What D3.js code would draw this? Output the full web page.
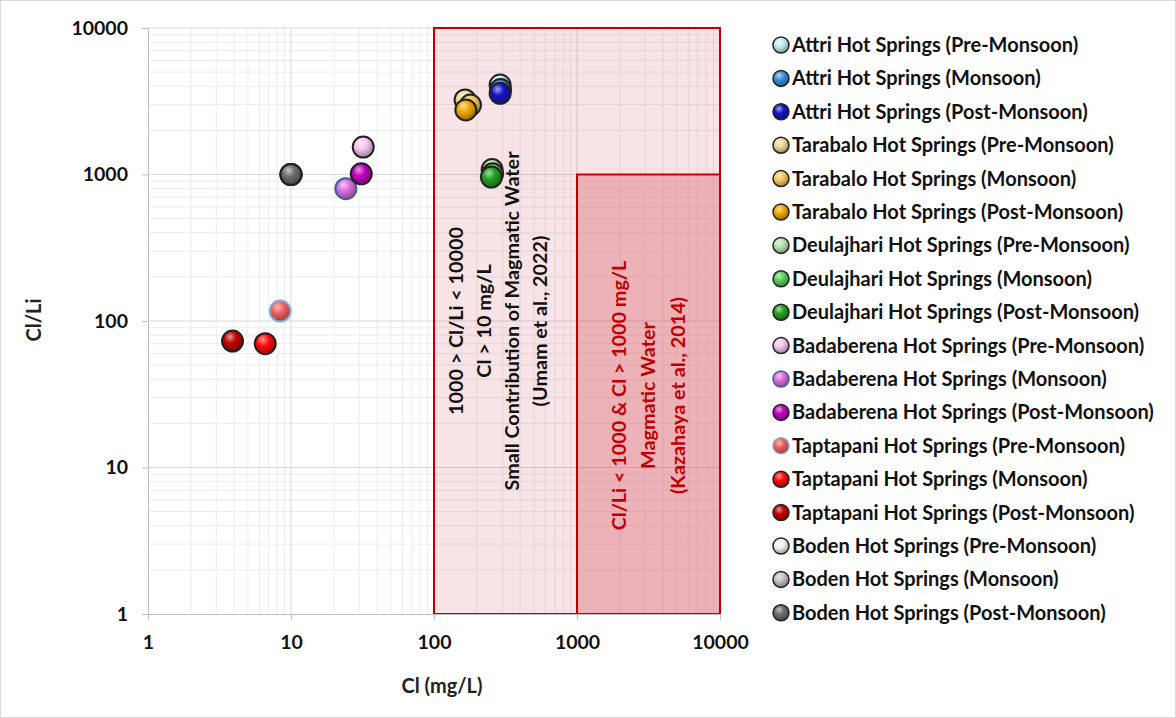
<!DOCTYPE html>
<html>
<head>
<meta charset="utf-8">
<script src="https://cdn.jsdelivr.net/npm/d3@7"></script>
<style>
  body { margin: 0; background: #fff; }
  svg { display: block; font-family: Lato, "Open Sans", sans-serif; }
</style>
</head>
<body>
<svg id="chart" width="1176" height="718"></svg>
<script>
// series, in legend order
var seriesNames = [
  "Attri Hot Springs (Pre-Monsoon)", "Attri Hot Springs (Monsoon)", "Attri Hot Springs (Post-Monsoon)",
  "Tarabalo Hot Springs (Pre-Monsoon)", "Tarabalo Hot Springs (Monsoon)", "Tarabalo Hot Springs (Post-Monsoon)",
  "Deulajhari Hot Springs (Pre-Monsoon)", "Deulajhari Hot Springs (Monsoon)", "Deulajhari Hot Springs (Post-Monsoon)",
  "Badaberena Hot Springs (Pre-Monsoon)", "Badaberena Hot Springs (Monsoon)", "Badaberena Hot Springs (Post-Monsoon)",
  "Taptapani Hot Springs (Pre-Monsoon)", "Taptapani Hot Springs (Monsoon)", "Taptapani Hot Springs (Post-Monsoon)",
  "Boden Hot Springs (Pre-Monsoon)", "Boden Hot Springs (Monsoon)", "Boden Hot Springs (Post-Monsoon)"
];
var clValues   = [290, 292, 290, 165, 180, 167, 255, 257, 252, 32, 24.2, 31, 8.4, 6.6, 3.9, 10, 10, 10];
var clliValues = [4080, 3800, 3580, 3230, 2980, 2760, 1080, 1010, 960, 1540, 800, 1010, 117, 70, 73, 1000, 1000, 1000];
var fillColors = ["#c8ecec", "#3c8ed8", "#1414c8", "#f0d898", "#f2c860", "#f0a800",
                  "#b8e2b0", "#58d058", "#22a022", "#f4c6f0", "#e070e0", "#c000c0",
                  "#f06060", "#ff0a0a", "#c00000", "#f2f2f2", "#c4c4c4", "#6e6e6e"];
var strokeColors = ["#222", "#222", "#222", "#222", "#222", "#222",
                    "#222", "#222", "#222", "#222", "#41609a", "#222",
                    "#86acd4", "#222", "#222", "#222", "#222", "#222"];

var xTicks = [1, 10, 100, 1000, 10000];
var yTicks = [1, 10, 100, 1000, 10000];

// zones: [x0, x1, y0, y1]
var zone1 = [100, 10000, 1, 10000];
var zone2 = [1000, 10000, 1, 1000];
var zone1Text = ["1000 > Cl/Li < 10000", "Cl > 10 mg/L", "Small Contribution of Magmatic Water", "(Umam et al., 2022)"];
var zone2Text = ["Cl/Li < 1000 & Cl > 1000 mg/L", "Magmatic Water", "(Kazahaya et al., 2014)"];

var svg = d3.select("#chart");
var margin = {left: 148, right: 456, top: 28, bottom: 104};
var width = 1176 - margin.left - margin.right,
    height = 718 - margin.top - margin.bottom;

svg.append("rect").attr("x", 0.5).attr("y", 0.5).attr("width", 1175).attr("height", 717)
  .attr("fill", "#fff").attr("stroke", "#d9d9d9");

var x = d3.scaleLog().domain([1, 10000]).range([0, width]);
var y = d3.scaleLog().domain([1, 10000]).range([height, 0]);

var g = svg.append("g").attr("transform", "translate(" + margin.left + "," + margin.top + ")");

// gradients
var defs = svg.append("defs");
fillColors.forEach(function (c, i) {
  var grad = defs.append("radialGradient").attr("id", "ball" + i)
    .attr("cx", "40%").attr("cy", "35%").attr("r", "65%").attr("fx", "38%").attr("fy", "30%");
  grad.append("stop").attr("offset", "0%").attr("stop-color", d3.interpolateRgb(c, "#fff")(0.6));
  grad.append("stop").attr("offset", "45%").attr("stop-color", c);
  grad.append("stop").attr("offset", "100%").attr("stop-color", d3.color(c).darker(1.2));
});

// grid
var minor = [];
[1, 10, 100, 1000].forEach(function (d) {
  for (var k = 2; k <= 9; k++) minor.push(d * k);
});
g.selectAll(".gx-minor").data(minor).enter().append("line")
  .attr("x1", function (d) { return x(d); }).attr("x2", function (d) { return x(d); })
  .attr("y1", 0).attr("y2", height).attr("stroke", "#ececec");
g.selectAll(".gy-minor").data(minor).enter().append("line")
  .attr("y1", function (d) { return y(d); }).attr("y2", function (d) { return y(d); })
  .attr("x1", 0).attr("x2", width).attr("stroke", "#ececec");
g.selectAll(".gx-major").data(xTicks.slice(1)).enter().append("line")
  .attr("x1", function (d) { return x(d); }).attr("x2", function (d) { return x(d); })
  .attr("y1", 0).attr("y2", height).attr("stroke", "#d9d9d9");
g.selectAll(".gy-major").data(yTicks.slice(1)).enter().append("line")
  .attr("y1", function (d) { return y(d); }).attr("y2", function (d) { return y(d); })
  .attr("x1", 0).attr("x2", width).attr("stroke", "#d9d9d9");

// zones
function zoneRect(z, op) {
  g.append("rect")
    .attr("x", x(z[0])).attr("y", y(z[3]))
    .attr("width", x(z[1]) - x(z[0])).attr("height", y(z[2]) - y(z[3]))
    .attr("fill", "rgb(208,62,75)").attr("fill-opacity", op)
    .attr("stroke", "#c00000").attr("stroke-width", 2);
}
zoneRect(zone1, 0.14);
zoneRect(zone2, 0.3);

// axes
var xAxis = g.append("g").attr("transform", "translate(0," + height + ")")
  .call(d3.axisBottom(x).tickValues(xTicks).tickFormat(d3.format("d")).tickSize(6).tickPadding(15));
var yAxis = g.append("g")
  .call(d3.axisLeft(y).tickValues(yTicks).tickFormat(d3.format("d")).tickSize(6).tickPadding(14));
[xAxis, yAxis].forEach(function (a) {
  a.select(".domain").attr("stroke", "#bfbfbf");
  a.selectAll(".tick line").attr("stroke", "#bfbfbf");
  a.selectAll("text").attr("font-size", 19.5).attr("font-weight", "bold").attr("fill", "#111")
    .attr("font-family", "Lato, sans-serif");
});

// zone labels
function zoneText(lines, cx, cy, color, step) {
  var t = g.append("text")
    .attr("transform", "translate(" + cx + "," + cy + ") rotate(-90)")
    .attr("text-anchor", "middle").attr("font-size", 19.8).attr("font-weight", "bold")
    .attr("fill", color);
  lines.forEach(function (l, i) {
    t.append("tspan").attr("x", 0).attr("y", (i - (lines.length - 1) / 2) * step + 7).text(l);
  });
}
zoneText(zone1Text, x(280), y(100), "#111", 27.8);
zoneText(zone2Text, x(3140), y(31), "#c00000", 29.5);

// points
g.selectAll(".pt").data(seriesNames).enter().append("circle")
  .attr("cx", function (d, i) { return x(clValues[i]); })
  .attr("cy", function (d, i) { return y(clliValues[i]); })
  .attr("r", 10.5)
  .attr("fill", function (d, i) { return "url(#ball" + i + ")"; })
  .attr("stroke", function (d, i) { return strokeColors[i]; })
  .attr("stroke-width", 2);

// axis titles
svg.append("text").attr("x", 442).attr("y", 693).attr("text-anchor", "middle")
  .attr("font-size", 20).attr("font-weight", "bold").attr("fill", "#222").text("Cl (mg/L)");
svg.append("text").attr("transform", "translate(41,320) rotate(-90)").attr("text-anchor", "middle")
  .attr("font-size", 20).attr("font-weight", "bold").attr("fill", "#222").text("Cl/Li");

// legend
var legend = svg.append("g").attr("transform", "translate(781,45)");
var items = legend.selectAll(".item").data(seriesNames).enter().append("g")
  .attr("transform", function (d, i) { return "translate(0," + (i * 33.4) + ")"; });
items.append("circle").attr("r", 8)
  .attr("fill", function (d, i) { return "url(#ball" + i + ")"; })
  .attr("stroke", function (d, i) { return strokeColors[i]; }).attr("stroke-width", 1.5);
items.append("text").attr("x", 11).attr("y", 7)
  .attr("font-size", 20).attr("font-weight", "bold").attr("fill", "#111")
  .text(function (d) { return d; });
</script>
</body>
</html>
